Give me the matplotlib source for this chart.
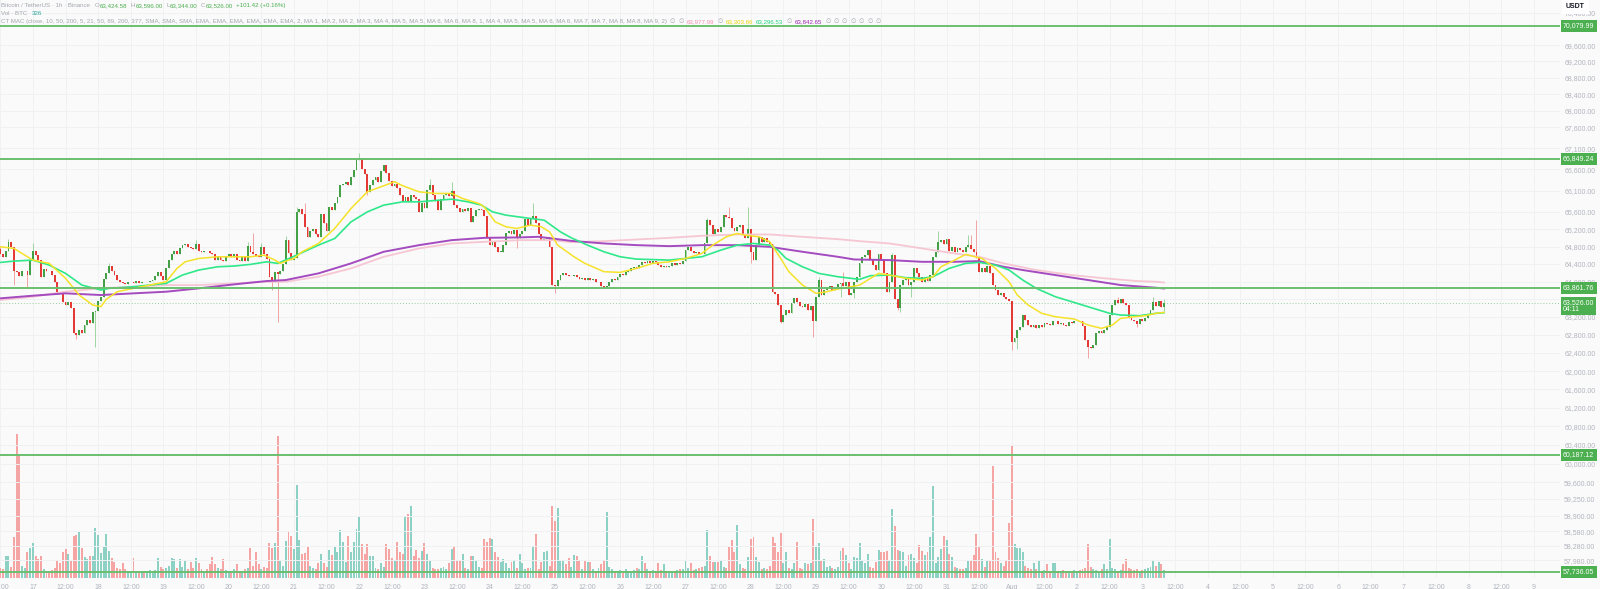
import numpy as np
import pandas as pd
import matplotlib
matplotlib.use("Agg")
import matplotlib.pyplot as plt
import matplotlib.dates as mdates
import matplotlib.transforms as mtransforms
from matplotlib.ticker import NullLocator, NullFormatter

# ---------------- data ----------------
start_time = "2024-07-16 12:00"
first_open = 64750

closes = [
    64620, 64560, 64700, 64900, 64780, 64250, 64220, 64120, 64230, 64240,
    64150, 64480, 64700, 64600, 64490, 64100, 64280, 64250, 64230, 64150,
    63980, 63770, 63760, 63540, 63470, 63540, 63400, 62840, 62800, 62920,
    62850, 63020, 63130, 63060, 63310, 63330, 63550, 63660, 64050, 64200,
    64350, 64230, 64150, 64040, 63980, 63960, 63940, 63980, 64000, 63960,
    64010, 63970, 64000, 63980, 64000, 64020, 64040, 64130, 64220, 64120,
    64040, 64300, 64490, 64640, 64690, 64620, 64760, 64830, 64850, 64790,
    64770, 64740, 64860, 64700, 64680, 64700, 64690, 64660, 64640, 64500,
    64560, 64490, 64470, 64590, 64640, 64560, 64640, 64500, 64470, 64550,
    64470, 64820, 64680, 64640, 64580, 64560, 64790, 64640, 64520, 64110,
    64000, 64220, 64180, 64240, 64400, 64960, 64650, 64500, 64530, 65600,
    65680, 65560, 65250, 65020, 65150, 65200, 65100, 65020, 65550, 65350,
    65150, 65720, 65650, 65800, 65950, 66225, 66250, 66300, 66220, 66425,
    66578, 66815, 66860, 66600, 66500, 66070, 66230, 66350, 66420, 66300,
    66550, 66700, 66520, 66330, 66200, 66250, 66150, 65990, 65850, 65950,
    65840, 66000, 65950, 65900, 65600, 65800, 65700, 66110, 66240, 66000,
    65850, 65650, 65900, 66000, 66050, 65980, 66080, 65750, 65700, 65600,
    65680, 65620, 65700, 65370, 65500, 65650, 65680, 65650, 65500, 64985,
    64830, 64900, 64780, 64680, 64680, 64830, 65120, 65150, 65080, 65180,
    65000, 65100, 65150, 65430, 65300, 65450, 65500, 65350, 65100, 64950,
    64980, 65020, 64800, 63920, 63900, 64030, 64150, 64200, 64150, 64120,
    64130, 64150, 64100, 64050, 64090, 64030, 64080, 64040, 64060, 63980,
    63990, 63900, 63846, 63900, 64000, 64050, 64030, 64100, 64180, 64150,
    64220, 64250, 64300, 64330, 64310, 64380, 64440, 64420, 64460, 64430,
    64470, 64450, 64380, 64330, 64350, 64320, 64350, 64420, 64380, 64430,
    64410, 64460, 64718, 64795, 64700, 64660, 64680, 64640, 64630, 64870,
    65409, 65300, 65100, 65200, 65130, 65260, 65525, 65480, 65450, 65217,
    65160, 65260, 65300, 65062, 64985, 65200, 64680, 64489, 64832, 65024,
    64900, 65000, 64900, 64850, 63770, 63720, 63470, 63095, 63245, 63357,
    63280, 63508, 63620, 63540, 63450, 63420, 63500, 63350, 63450, 63100,
    63657, 64035, 63700, 63800, 63850, 63900, 63800, 63850, 63950, 63960,
    63900, 63990, 63700, 63750, 64000, 64100, 64420, 64550, 64600, 64720,
    64520, 64380, 64260, 64640, 64500, 64190, 63770, 64000, 64600, 63600,
    63400, 63920, 64035, 64090, 63930, 64000, 64300, 64190, 64110, 64000,
    64080, 64010, 64150, 64565, 64680, 64908, 64950, 64850, 64980, 64700,
    64800, 64680, 64760, 64710, 64680, 64780, 64830, 64740, 64680, 64540,
    64224, 64300, 64220, 64360, 64190, 63920, 63800, 63700, 63740, 63650,
    63600, 63550, 62650, 62730, 62910, 62980, 63245, 63130, 63030, 62980,
    63020, 62950, 63020, 62980, 63060, 63040, 63020, 63100, 63110, 63050,
    63060, 63030, 63010, 63090, 63060, 63100, 63120, 63110, 63000, 62687,
    62540, 62500, 62580, 62835, 62880, 62850, 62910, 62984, 63245, 63470,
    63582, 63520, 63600, 63520, 63480, 63170, 63130, 63120, 63050, 63150,
    63100, 63180, 63240, 63360, 63530, 63450, 63560, 63424.58, 63526,
]

volumes = [
    420, 380, 880, 880, 450, 1630, 5760, 4920, 480, 390,
    1030, 1190, 1410, 880, 750, 880, 350, 300, 260, 320,
    410, 720, 590, 1030, 1160, 960, 690, 1690, 1720, 1850,
    1190, 850, 760, 880, 880, 1990, 1720, 990, 1250, 1750,
    1080, 810, 650, 420, 380, 610, 350, 300, 280, 810,
    260, 240, 300, 280, 250, 320, 290, 310, 790, 450,
    380, 420, 470, 810, 750, 400, 770, 430, 690, 380,
    630, 420, 810, 590, 350, 300, 380, 550, 850, 560,
    400, 380, 770, 320, 300, 280, 360, 550, 300, 280,
    350, 420, 1190, 480, 1030, 560, 380, 450, 400, 1390,
    1210, 1410, 5680, 720, 480, 1480, 1880, 1680, 1160, 3720,
    1520, 960, 1010, 1230, 480, 420, 380, 610, 960, 590,
    450, 1120, 920, 1230, 1040, 1920, 1450, 650, 1690, 1040,
    1450, 1960, 2480, 1350, 950, 1360, 880, 880, 420, 380,
    590, 450, 1360, 1150, 810, 720, 1440, 1030, 950, 2450,
    2550, 2870, 880, 1120, 800, 1080, 1390, 950, 720, 420,
    380, 350, 400, 450, 380, 590, 1150, 1290, 680, 720,
    950, 420, 380, 880, 880, 690, 450, 400, 1550, 1450,
    1610, 1560, 1050, 850, 650, 750, 610, 420, 650, 720,
    400, 950, 590, 380, 420, 420, 1290, 1750, 380, 650,
    1050, 1080, 480, 2890, 2290, 2790, 720, 720, 550, 810,
    450, 920, 880, 720, 380, 680, 650, 650, 350, 300,
    420, 560, 720, 2630, 450, 380, 300, 280, 320, 290,
    350, 300, 260, 310, 420, 380, 880, 590, 350, 300,
    330, 280, 590, 310, 550, 290, 260, 300, 280, 320,
    350, 380, 690, 400, 590, 330, 380, 420, 450, 480,
    1920, 880, 650, 650, 650, 720, 450, 420, 1250, 1520,
    1030, 2120, 560, 420, 380, 850, 1560, 1650, 850, 650,
    380, 420, 350, 480, 1650, 1390, 1050, 1790, 610, 1030,
    420, 380, 610, 1450, 420, 380, 590, 560, 590, 2350,
    1250, 1390, 720, 750, 450, 480, 420, 380, 450, 1080,
    1210, 920, 610, 350, 850, 810, 1390, 720, 610, 960,
    450, 400, 650, 1120, 1030, 1030, 1080, 680, 2750, 2080,
    1120, 1090, 1030, 480, 920, 960, 810, 590, 1320, 1080,
    920, 1030, 1650, 3690, 610, 850, 1160, 1680, 1520, 960,
    850, 450, 420, 380, 350, 400, 680, 680, 920, 1750,
    1230, 770, 450, 720, 690, 4490, 1040, 810, 590, 480,
    720, 2190, 5280, 1360, 1210, 1210, 1050, 480, 420, 380,
    590, 350, 720, 300, 320, 550, 280, 610, 590, 300,
    280, 330, 260, 300, 280, 320, 290, 310, 350, 420,
    1350, 450, 380, 330, 300, 350, 560, 380, 1550, 420,
    350, 300, 330, 560, 750, 420, 380, 320, 350, 300,
    330, 380, 420, 450, 720, 480, 650, 560, 326,
]

# visible wick extremes (candle index -> price)
wick_high = {0: 64800, 3: 64970, 12: 64880, 40: 64420, 72: 64950, 91: 64900,
             93: 65110, 96: 64880, 105: 65050, 109: 65720, 112: 65800,
             132: 66980, 158: 66380, 166: 66310, 196: 65800, 260: 65450,
             268: 65720, 275: 65720, 301: 64100, 310: 64220, 328: 64650,
             345: 65155, 356: 65060, 357: 65060, 359: 65409, 411: 63650,
             424: 63640, 428: 63596}
wick_low = {5: 63920, 10: 63880, 28: 62720, 35: 62540, 100: 63820, 102: 63090,
            135: 66000, 190: 64757, 204: 63730, 276: 64420, 287: 63058,
            299: 62762, 309: 63640, 314: 63620, 330: 63357, 331: 63320,
            335: 63650, 372: 62470, 374: 62490, 400: 62283, 418: 62980,
            428: 63344}

# moving averages (candle index, value)
yellow_idx = [0, 5, 12, 18, 24, 29, 34, 37, 39, 43, 49, 55, 61, 65, 68, 73, 80, 86, 92, 97,
              101, 103, 106, 108, 111, 117, 123, 129, 135, 141, 145, 148, 154, 160, 166, 170,
              176, 178, 182, 186, 190, 195, 199, 202, 205, 211, 215, 222, 228, 234, 240, 246,
              252, 258, 262, 267, 271, 274, 279, 283, 287, 290, 295, 300, 304, 308, 311, 316,
              318, 323, 327, 333, 339, 343, 346, 351, 355, 361, 366, 371, 374, 378, 383, 388,
              395, 400, 405, 409, 412, 417, 421, 425, 428]
yellow_val = [64795, 64757, 64489, 64414, 64074, 63695, 63470, 63432, 63600, 63770, 63846,
              63921, 63996, 64300, 64450, 64527, 64565, 64565, 64565, 64603, 64489, 64414,
              64489, 64527, 64680, 64871, 65217, 65680, 66070, 66212, 66307, 66212, 66070,
              66032, 66032, 65914, 65797, 65718, 65370, 65255, 65217, 65293, 65255, 65139,
              64832, 64565, 64414, 64224, 64209, 64300, 64414, 64450, 64527, 64641, 64832,
              65024, 65101, 65062, 65024, 64908, 64527, 64224, 63921, 63733, 63770, 63830,
              63860, 63921, 63996, 64186, 64148, 64074, 64035, 64110, 64338, 64489, 64619,
              64527, 64300, 63996, 63695, 63470, 63283, 63207, 63155, 63021, 62947, 63021,
              63170, 63207, 63230, 63283, 63304]
green_idx = [0, 5, 12, 18, 24, 30, 37, 40, 49, 61, 67, 73, 80, 86, 92, 98, 102, 106, 117, 123,
             129, 135, 141, 148, 154, 166, 172, 177, 181, 186, 195, 200, 206, 210, 216, 222,
             228, 234, 246, 258, 265, 271, 277, 283, 286, 289, 295, 301, 308, 316, 320, 327,
             333, 339, 343, 349, 355, 360, 366, 371, 376, 381, 388, 394, 400, 408, 412, 419,
             425, 428]
green_val = [64436, 64466, 64489, 64375, 64186, 63921, 63808, 63846, 63883, 63959, 64148,
             64262, 64337, 64353, 64391, 64450, 64414, 64520, 64832, 64985, 65370, 65602,
             65758, 65836, 65836, 65898, 65836, 65758, 65602, 65525, 65448, 65409, 65139,
             65000, 64832, 64680, 64565, 64512, 64489, 64565, 64718, 64832, 64871, 64832,
             64718, 64527, 64337, 64186, 64110, 64050, 64133, 64148, 64087, 64074, 64110,
             64300, 64414, 64436, 64375, 64262, 64035, 63846, 63657, 63545, 63432, 63283,
             63245, 63230, 63283, 63297]
purple_idx = [0, 12, 24, 37, 49, 61, 73, 86, 98, 105, 117, 129, 141, 154, 166, 178, 191, 198,
              203, 210, 222, 234, 246, 258, 271, 283, 295, 308, 314, 327, 339, 351, 360, 369,
              376, 388, 400, 412, 425, 428]
purple_val = [63620, 63680, 63733, 63695, 63733, 63770, 63846, 63936, 64012, 64035, 64186,
              64414, 64680, 64832, 64947, 65000, 65010, 65024, 64985, 64930, 64871, 64832,
              64809, 64832, 64832, 64793, 64680, 64565, 64504, 64489, 64450, 64450, 64466,
              64337, 64262, 64148, 64035, 63921, 63860, 63843]
pink_idx = [0, 12, 24, 37, 49, 61, 73, 86, 98, 105, 117, 129, 141, 154, 166, 178, 191, 203,
            210, 222, 234, 246, 258, 271, 283, 295, 308, 316, 327, 339, 351, 360, 369, 381,
            394, 406, 418, 425, 428]
pink_val = [63582, 63657, 63770, 63846, 63883, 63921, 63921, 63959, 63996, 63996, 64110,
            64300, 64565, 64757, 64871, 64908, 64947, 64947, 64900, 64924, 64962, 65000,
            65047, 65078, 65078, 65024, 64970, 64924, 64871, 64757, 64641, 64565, 64414,
            64262, 64148, 64074, 64012, 63996, 63978]

level_prices = [70079.99, 66849.24, 63861.76, 60187.12, 57736.05]
level_labels = ["70,079.99", "66,849.24", "63,861.76", "60,187.12", "57,736.05"]
last_price = 63526.00
last_label = "63,526.00\n04:11"

ytick_vals = [70400, 69600, 69200, 68800, 68400, 68000, 67600, 67100, 66600, 66100, 65600,
              65200, 64800, 64400, 64000, 63600, 63200, 62800, 62400, 62000, 61600, 61200,
              60800, 60400, 60000, 59600, 59250, 58900, 58580, 58280, 57980]

header_symbol = "Bitcoin / TetherUS · 1h · Binance"
header_ohlc = [("O", "63,424.58"), ("H", "63,596.00"), ("L", "63,344.00"), ("C", "63,526.00")]
header_change = "+101.42 (+0.16%)"
vol_label, vol_value = "Vol · BTC", "326"
mac_label = ("CT MAC (close, 10, 50, 200, 5, 21, 50, 89, 200, 377, SMA, SMA, SMA, EMA, EMA, "
             "EMA, EMA, EMA, EMA, 2, MA 1, MA 2, MA 2, MA 3, MA 4, MA 5, MA 5, MA 6, MA 6, "
             "MA 8, 1, MA 4, MA 5, MA 5, MA 6, MA 6, MA 7, MA 7, MA 8, MA 8, MA 9, 2)")
mac_values = [("63,977.99", "pink"), ("63,303.66", "yellow"), ("63,296.53", "green"),
              ("63,842.65", "purple")]

# ---------------- style ----------------
W, H = 1600, 589
BG = "#fafafa"
FONT = ["Liberation Sans", "DejaVu Sans"]
UP, DOWN = "#43a047", "#e53935"
UP_W, DOWN_W = "#9fd4a1", "#f2a3a3"
VOL_UP, VOL_DN = "#8dd0c4", "#f6a5a5"
LEVEL = "#6cbf6f"
TAG = "#4caf50"
LABEL = "#b2b5be"
GRID = "#f0f1f3"
MA_COL = {"yellow": "#f5e22a", "green": "#2ee88a", "purple": "#a44bbf", "pink": "#f6c6d3"}
MA_TXT = {"yellow": "#e8d400", "green": "#1fd67a", "purple": "#9c27b0", "pink": "#f48fb1"}

times = pd.date_range(start_time, periods=len(closes), freq="h")
x = mdates.date2num(times)
opens = [first_open] + closes[:-1]
highs = [max(o, c) for o, c in zip(opens, closes)]
lows = [min(o, c) for o, c in zip(opens, closes)]
for k, v in wick_high.items():
    highs[k] = v
for k, v in wick_low.items():
    lows[k] = v
up = np.array(closes) >= np.array(opens)

fig = plt.figure(figsize=(16, 5.89), dpi=100)
fig.patch.set_facecolor(BG)
plot_right, plot_bottom = 1560, 578
rect = [0, 1 - plot_bottom / H, plot_right / W, plot_bottom / H]
axv = fig.add_axes(rect)
ax = fig.add_axes(rect, sharex=axv)
axv.set_zorder(0)
ax.set_zorder(1)
ax.patch.set_visible(False)
axv.set_facecolor(BG)

xl = mdates.date2num(pd.Timestamp("2024-07-16 11:54"))
xr = mdates.date2num(pd.Timestamp("2024-08-09 09:36"))
ax.set_xlim(xl, xr)

# volume
bw = 0.72 / 24
axv.bar(x, volumes, width=bw, color=[VOL_UP if u else VOL_DN for u in up], linewidth=0)
axv.set_ylim(0, plot_bottom * 40)
axv.set_yticks([])

# price axis
ax.set_yscale("log")
ax.set_ylim(57613, 70721)
ax.yaxis.set_minor_locator(NullLocator())
ax.yaxis.set_minor_formatter(NullFormatter())
ax.yaxis.tick_right()
ax.set_yticks(ytick_vals)
ax.set_yticklabels([f"{v:,.2f}" for v in ytick_vals])
ax.tick_params(axis="y", length=0, pad=3, labelsize=5, labelcolor=LABEL)
for lab in ax.get_yticklabels():
    lab.set_family(FONT)

# x ticks
tick_times = pd.date_range("2024-07-16 12:00", "2024-08-09 00:00", freq="12h")
tick_labels = []
for t in tick_times:
    if t.hour == 12:
        tick_labels.append("12:00")
    elif t.day == 1:
        tick_labels.append(t.strftime("%b"))
    else:
        tick_labels.append(str(t.day))
ax.set_xticks(mdates.date2num(tick_times))
ax.set_xticklabels(tick_labels)
ax.tick_params(axis="x", length=0, pad=4, labelsize=5, labelcolor=LABEL)
for lab in ax.get_xticklabels():
    lab.set_family(FONT)
axv.tick_params(axis="x", length=0, labelbottom=False)

for a in (ax, axv):
    for s in a.spines.values():
        s.set_visible(False)

# grid (under everything)
for tx in mdates.date2num(tick_times):
    axv.axvline(tx, color=GRID, lw=0.7, zorder=0)
for yv in ytick_vals:
    ax.axhline(yv, color=GRID, lw=0.7, zorder=0)

# candles
ax.vlines(x, lows, highs, colors=[UP_W if u else DOWN_W for u in up], lw=0.7, zorder=2)
bodies_b = [min(o, c) for o, c in zip(opens, closes)]
bodies_h = [max(abs(c - o), 8) for o, c in zip(opens, closes)]
ax.bar(x, bodies_h, bottom=bodies_b, width=0.68 / 24,
       color=[UP if u else DOWN for u in up], linewidth=0, zorder=3)

# moving averages
ax.plot(x[pink_idx], pink_val, color=MA_COL["pink"], lw=1.3, zorder=4)
ax.plot(x[purple_idx], purple_val, color=MA_COL["purple"], lw=1.4, zorder=4)
ax.plot(x[green_idx], green_val, color=MA_COL["green"], lw=1.2, zorder=4)
ax.plot(x[yellow_idx], yellow_val, color=MA_COL["yellow"], lw=1.1, zorder=4)

# horizontal levels
for p in level_prices:
    ax.axhline(p, color=LEVEL, lw=1.4, zorder=5)
ax.axhline(last_price, color="#9ccf9e", lw=0.7, ls=(0, (1, 2)), zorder=1)

trans = mtransforms.blended_transform_factory(ax.transAxes, ax.transData)
tag_x = 1563 / plot_right
for p, lab in zip(level_prices, level_labels):
    ax.text(tag_x, p, lab, transform=trans, ha="left", va="center", fontsize=5,
            color="white", family=FONT, clip_on=False, zorder=10,
            bbox=dict(boxstyle="square,pad=0.35", fc=TAG, ec="none"))
last_trans = mtransforms.offset_copy(trans, fig=fig, x=0, y=3.5, units="dots")
ax.text(tag_x, last_price, last_label, transform=last_trans, ha="left", va="top",
        fontsize=5, color="white", family=FONT, clip_on=False, zorder=10,
        linespacing=0.95, bbox=dict(boxstyle="square,pad=0.25", fc=TAG, ec="none"))

# USDT box
fig.text(1566 / W, 1 - 6 / H, "USDT", fontsize=5, color="#131722", family=FONT,
         ha="left", va="center", fontweight="bold",
         bbox=dict(boxstyle="square,pad=0.6", fc="white", ec="none"))

# header
renderer = fig.canvas.get_renderer()
GRAY = "#a3a6af"
GREEN_TXT = "#4caf50"
HS = 4.4


def runs(x_px, y_px, parts):
    xx = x_px
    for s, c, gap in parts:
        t = fig.text(xx / W, 1 - y_px / H, s, color=c, fontsize=HS, family=FONT,
                     ha="left", va="center")
        xx += t.get_window_extent(renderer).width + gap


line1 = [(header_symbol, GRAY, 5)]
for k, v in header_ohlc:
    line1 += [(k, GRAY, 0.6), (v, GREEN_TXT, 3)]
line1.append((header_change, GREEN_TXT, 0))
runs(1, 5.5, line1)
runs(1, 13.5, [(vol_label, GRAY, 4), (vol_value, "#26a69a", 0)])
line3 = [(mac_label, GRAY, 3), ("∅", GRAY, 3), ("∅", GRAY, 3)]
line3.append((mac_values[0][0], MA_TXT[mac_values[0][1]], 3))
line3.append(("∅", GRAY, 3))
line3.append((mac_values[1][0], MA_TXT[mac_values[1][1]], 3))
line3.append((mac_values[2][0], MA_TXT[mac_values[2][1]], 3))
line3.append(("∅", GRAY, 3))
line3.append((mac_values[3][0], MA_TXT[mac_values[3][1]], 3))
for _ in range(7):
    line3.append(("∅", GRAY, 3))
runs(1, 21.5, line3)

fig.savefig("out.png", dpi=100, facecolor=BG)
